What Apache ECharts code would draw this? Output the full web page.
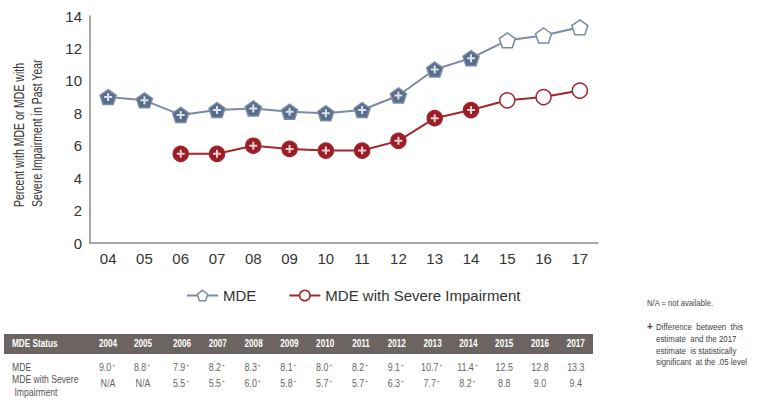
<!DOCTYPE html>
<html><head><meta charset="utf-8">
<script src="https://cdn.jsdelivr.net/npm/echarts@6/dist/echarts.min.js"></script>
<style>html,body{margin:0;padding:0;background:#fff}#c{width:764px;height:404px}</style>
</head><body><div id="c"></div>
<script>
// ---- data ----
const years = ['2004','2005','2006','2007','2008','2009','2010','2011','2012','2013','2014','2015','2016','2017'];
const xLabels = ['04','05','06','07','08','09','10','11','12','13','14','15','16','17'];
const mde = [9.0, 8.8, 7.9, 8.2, 8.3, 8.1, 8.0, 8.2, 9.1, 10.7, 11.4, 12.5, 12.8, 13.3];
const mdeSig = [1,1,1,1,1,1,1,1,1,1,1,0,0,0];
const severe = [null, null, 5.5, 5.5, 6.0, 5.8, 5.7, 5.7, 6.3, 7.7, 8.2, 8.8, 9.0, 9.4];
const severeSig = [0,0,1,1,1,1,1,1,1,1,1,0,0,0];
const yTicks = [0, 2, 4, 6, 8, 10, 12, 14];
const seriesNames = ['MDE', 'MDE with Severe Impairment'];
const yTitle = 'Percent with MDE or MDE with\nSevere Impairment in Past Year';
const tableHeader = 'MDE Status';
const rowLabels = ['MDE', 'MDE with Severe', ' Impairment'];
const notes = ['N/A = not available.', '+', 'Difference  between  this', 'estimate  and the 2017', 'estimate  is statistically', 'significant  at the .05 level'];

// ---- styles ----
const blueLine = '#7b8ba3', blueFill = '#566d8c';
const redLine = '#a3262d', redFill = '#9a1c24';
const pent = 'path://M0,-10 L9.51,-3.09 L5.88,8.09 L-5.88,8.09 L-9.51,-3.09 Z';
const plus = 'path://M-1,-4H1V-1H4V1H1V4H-1V1H-4V-1H-1Z';
const font = "'Liberation Sans', Arial, sans-serif";

const mdeData = mde.map((v, i) => ({ value: v, itemStyle: { color: mdeSig[i] ? blueFill : '#fff' } }));
const sevData = severe.map((v, i) => v == null ? '-' : ({ value: v, itemStyle: { color: severeSig[i] ? redFill : '#fff' } }));
const mdePlus = mde.map((v, i) => mdeSig[i] ? v : '-');
const sevPlus = severe.map((v, i) => (severeSig[i] && v != null) ? v : '-');

// ---- table & notes (graphic) ----
const colX = years.map((y, i) => i === 0 ? 108 : i === 1 ? 143 : 182 + 35.8 * (i - 2));
const fmt = v => v == null ? 'N/A' : v.toFixed(1);
const txt = (x, y, text, f, fill, align, sx) => ({ type: 'text', x: x, y: y, scaleX: sx || 0.82,
  style: { text: text, fill: fill, font: f, align: align || 'left', verticalAlign: 'middle' } });
const graphic = [
  { type: 'text', x: 28, y: 207, rotation: Math.PI / 2, scaleX: 0.7,
    style: { text: yTitle, fill: '#333', font: "15px " + font, align: 'left', verticalAlign: 'middle', lineHeight: 18 } },
  { type: 'rect', shape: { x: 4, y: 334, width: 589, height: 20 }, style: { fill: '#6c6461' } },
  txt(12, 344, tableHeader, "bold 10px " + font, '#fff'),
  txt(12, 367, rowLabels[0], "10.5px " + font, '#555'),
  txt(12, 379, rowLabels[1], "10.5px " + font, '#555'),
  txt(12, 392, rowLabels[2], "10.5px " + font, '#555')
];
years.forEach((y, i) => {
  graphic.push(txt(colX[i], 344, y, "bold 10px " + font, '#fff', 'center'));
  const rows = [[mde[i], mdeSig[i], 367], [severe[i], severeSig[i], 383]];
  rows.forEach(([v, s, yy]) => {
    graphic.push({ type: 'text', x: colX[i] + (s ? -1 : 0), y: yy, scaleX: 0.85, style: {
      text: s ? '{v|' + fmt(v) + '}{s|+}' : '{v|' + fmt(v) + '}',
      align: 'center', verticalAlign: 'middle',
      rich: { v: { fill: '#666', font: "10.5px " + font }, s: { fill: '#777', font: "6px " + font, padding: [0, 0, 5, 1] } }
    } });
  });
});
graphic.push(txt(647, 303, notes[0], "9px " + font, '#444', 'left', 0.85));
graphic.push(txt(647, 326, notes[1], "bold 10px " + font, '#444', 'left', 1));
[2, 3, 4, 5].forEach((k, j) => graphic.push(txt(656, 327 + j * 11.7, notes[k], "9px " + font, '#444', 'left', 0.88)));

const chart = echarts.init(document.getElementById('c'), null, { renderer: 'svg' });
chart.setOption({
  animation: false,
  grid: { left: 90, right: 166, top: 16, bottom: 161 },
  legend: {
    left: 181, top: 283, itemWidth: 31, itemHeight: 13, itemGap: 32,
    textStyle: { fontSize: 15, color: '#333', fontFamily: font },
    data: [
      { name: seriesNames[0], itemStyle: { color: '#fff', borderColor: blueLine, borderWidth: 1.5 } },
      { name: seriesNames[1], itemStyle: { color: '#fff', borderColor: redLine, borderWidth: 1.5 } }
    ]
  },
  xAxis: {
    type: 'category', data: xLabels, boundaryGap: true,
    axisLine: { lineStyle: { color: '#8a8a8a', width: 1.5 } }, axisTick: { show: false },
    axisLabel: { fontSize: 15, color: '#333', fontFamily: font, margin: 8 }
  },
  yAxis: {
    type: 'value', min: yTicks[0], max: yTicks[yTicks.length - 1], interval: 2,
    splitLine: { show: false }, axisTick: { show: false },
    axisLine: { show: true, lineStyle: { color: '#8a8a8a', width: 1.5 } },
    axisLabel: { fontSize: 15, color: '#333', fontFamily: font, margin: 8 }
  },
  series: [
    { name: seriesNames[0], type: 'line', data: mdeData, symbol: pent, symbolSize: [16, 15],
      lineStyle: { color: blueLine, width: 2 }, itemStyle: { color: '#fff', borderColor: blueLine, borderWidth: 1.5 }, z: 3 },
    { name: seriesNames[1], type: 'line', data: sevData, symbol: 'circle', symbolSize: 15, connectNulls: false,
      lineStyle: { color: redLine, width: 2 }, itemStyle: { color: '#fff', borderColor: redLine, borderWidth: 1.5 }, z: 3 },
    { name: 'mdePlus', type: 'scatter', data: mdePlus, symbol: plus, symbolSize: 8, itemStyle: { color: '#fff' }, z: 5, silent: true },
    { name: 'sevPlus', type: 'scatter', data: sevPlus, symbol: plus, symbolSize: 8, itemStyle: { color: '#fff' }, z: 5, silent: true }
  ],
  graphic: graphic
});
</script></body></html>
